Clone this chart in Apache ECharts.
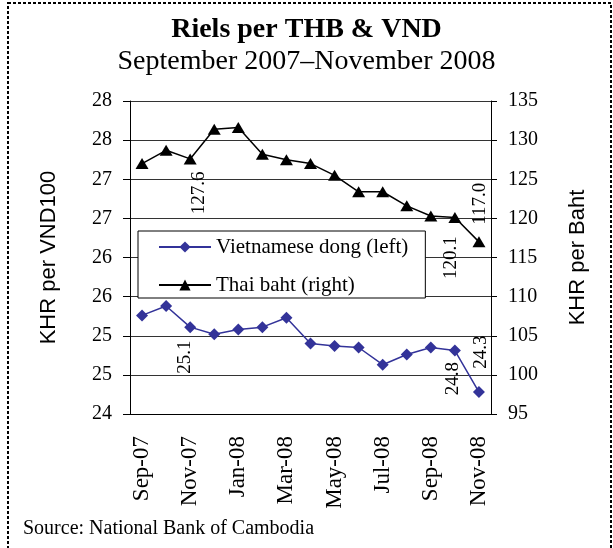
<!DOCTYPE html>
<html>
<head>
<meta charset="utf-8">
<style>
  html, body { margin: 0; padding: 0; background: #fff; }
  #chart { width: 613px; height: 548px; }
</style>
<script src="https://cdn.jsdelivr.net/npm/echarts@6/dist/echarts.min.js"></script>
</head>
<body>
<div id="chart"></div>
<script>
// data
var months = ["Sep-07", "Oct-07", "Nov-07", "Dec-07", "Jan-08", "Feb-08", "Mar-08", "Apr-08",
  "May-08", "Jun-08", "Jul-08", "Aug-08", "Sep-08", "Oct-08", "Nov-08"];
var vnd = [25.26, 25.38, 25.11, 25.02, 25.08, 25.11, 25.23, 24.90, 24.87, 24.85, 24.63, 24.76, 24.85, 24.81, 24.28];
var thb = [127.0, 128.7, 127.6, 131.4, 131.6, 128.2, 127.5, 127.0, 125.5, 123.4, 123.4, 121.6, 120.3, 120.1, 117.0];

// which points carry a value label, and where the label sits (screen dx, dy from the point)
var vndLabels = { 2: [-5, 30], 13: [-2, 28], 14: [2, -40] };
var thbLabels = { 2: [9, 34], 13: [-4, 40], 14: [1, -38] };

var serif = "Liberation Serif";
var sans = "Liberation Sans";

function withLabels(values, labels) {
  return values.map(function (v, i) {
    if (!labels[i]) return v;
    var d = labels[i];
    return {
      value: v,
      label: {
        show: true,
        position: "inside",
        // offset works in the rotated frame of the label
        offset: [-d[1], d[0]],
        rotate: 90,
        align: "center",
        verticalAlign: "middle",
        fontFamily: serif,
        fontSize: 19,
        color: "#000",
        formatter: function (p) { return p.value.toFixed(1); }
      }
    };
  });
}

var myChart = echarts.init(document.getElementById("chart"));

var option = {
  backgroundColor: "#fff",
  animation: false,
  title: [
    {
      text: "Riels per THB & VND",
      left: "center",
      top: 10,
      textStyle: { fontFamily: serif, fontSize: 28, fontWeight: "bold", color: "#000", lineHeight: 30 }
    },
    {
      text: "September 2007–November 2008",
      left: "center",
      top: 42,
      textStyle: { fontFamily: serif, fontSize: 28, fontWeight: "normal", color: "#000", lineHeight: 30 }
    }
  ],
  legend: {
    orient: "vertical",
    left: 138,
    top: 231,
    padding: [5, 17, 2, 20],
    itemWidth: 52,
    itemHeight: 14,
    itemGap: 16,
    backgroundColor: "#fff",
    borderColor: "#000",
    borderWidth: 1,
    borderRadius: 0,
    textStyle: { fontFamily: serif, fontSize: 21, color: "#000", lineHeight: 22 },
    data: ["Vietnamese dong (left)", "Thai baht (right)"]
  },
  grid: { left: 130, right: 122, top: 101, bottom: 134 },
  xAxis: {
    type: "category",
    data: months,
    boundaryGap: true,
    axisLine: { lineStyle: { color: "#000", width: 1 } },
    axisTick: { interval: 1, length: 5, lineStyle: { color: "#000" } },
    axisLabel: {
      interval: 1,
      rotate: 90,
      margin: 22,
      fontFamily: serif,
      fontSize: 23,
      color: "#000"
    }
  },
  yAxis: [
    {
      type: "value",
      min: 24,
      max: 28,
      interval: 0.5,
      position: "left",
      name: "KHR per VND100",
      nameLocation: "middle",
      nameGap: 70,
      nameTextStyle: { fontFamily: sans, fontSize: 22, color: "#000" },
      axisLine: { show: true, lineStyle: { color: "#000" } },
      axisTick: { show: true, length: 7, lineStyle: { color: "#000" } },
      axisLabel: {
        margin: 18,
        fontFamily: serif,
        fontSize: 20,
        color: "#000",
        formatter: function (v) { return Math.round(v); }
      },
      splitLine: { show: true, lineStyle: { color: "#333", width: 1 } }
    },
    {
      type: "value",
      min: 95,
      max: 135,
      interval: 5,
      position: "right",
      name: "KHR per Baht",
      nameLocation: "middle",
      nameRotate: 90,
      nameGap: 76,
      nameTextStyle: { fontFamily: sans, fontSize: 22, color: "#000" },
      axisLine: { show: true, lineStyle: { color: "#000" } },
      axisTick: { show: true, length: 6, lineStyle: { color: "#000" } },
      axisLabel: { margin: 17, fontFamily: serif, fontSize: 20, color: "#000" },
      splitLine: { show: false }
    }
  ],
  series: [
    {
      name: "Vietnamese dong (left)",
      type: "line",
      yAxisIndex: 0,
      symbol: "diamond",
      symbolSize: 12,
      color: "#333399",
      lineStyle: { color: "#333399", width: 1.5 },
      itemStyle: { color: "#333399" },
      data: withLabels(vnd, vndLabels)
    },
    {
      name: "Thai baht (right)",
      type: "line",
      yAxisIndex: 1,
      symbol: "triangle",
      symbolSize: [13, 11],
      color: "#000",
      lineStyle: { color: "#000", width: 1.5 },
      itemStyle: { color: "#000" },
      data: withLabels(thb, thbLabels)
    }
  ],
  graphic: [
    {
      type: "text",
      left: 23,
      top: 519,
      style: { text: "Source: National Bank of Cambodia", font: "20px 'Liberation Serif'", fill: "#000" }
    },
    {
      type: "rect",
      shape: { x: 8, y: 3, width: 603, height: 570 },
      style: { fill: "none", stroke: "#000", lineWidth: 2, lineDash: [3, 2] },
      silent: true
    }
  ]
};

myChart.setOption(option);
</script>
</body>
</html>
